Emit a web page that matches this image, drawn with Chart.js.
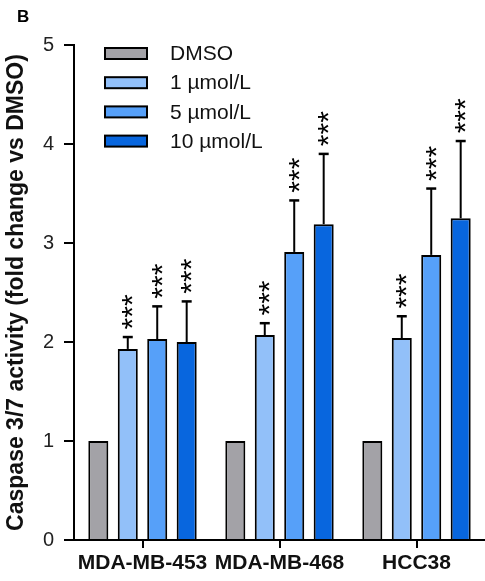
<!DOCTYPE html>
<html>
<head>
<meta charset="utf-8">
<script src="https://cdn.jsdelivr.net/npm/chart.js@4.4.0/dist/chart.umd.min.js"></script>
<style>
  html, body { margin: 0; padding: 0; background: #fff; overflow: hidden; }
  #wrap { width: 485px; height: 581px; }
</style>
</head>
<body>
<div id="wrap"><canvas id="myChart" width="485" height="581"></canvas></div>
<script>
const cellLines = ['MDA-MB-453', 'MDA-MB-468', 'HCC38'];
const seriesNames = ['DMSO', '1 µmol/L', '5 µmol/L', '10 µmol/L'];
const seriesColors = ['#a3a2a7', '#92c0f9', '#56a0f9', '#0866de'];

// mean fold change
const dmso = [1, 1, 1];
const dose1 = [1.93, 2.07, 2.04];
const dose5 = [2.03, 2.91, 2.88];
const dose10 = [2.00, 3.19, 3.25];

// upper error (SD)
const errDmso = [0, 0, 0];
const err1 = [0.12, 0.12, 0.22];
const err5 = [0.33, 0.52, 0.67];
const err10 = [0.41, 0.71, 0.78];

const starsDmso = ['', '', ''];
const stars1 = ['***', '***', '***'];
const stars5 = ['***', '***', '***'];
const stars10 = ['***', '***', '***'];

const yMin = 0;
const yMax = 5;
const yStep = 1;

const FONT = '"Liberation Sans", Arial, Helvetica, sans-serif';

const values = [dmso, dose1, dose5, dose10];
const errors = [errDmso, err1, err5, err10];
const stars = [starsDmso, stars1, stars5, stars10];

const datasets = seriesNames.map((name, i) => ({
  label: name,
  data: values[i],
  errors: errors[i],
  stars: stars[i],
  backgroundColor: seriesColors[i],
  borderColor: '#000',
  borderWidth: 2,
  borderSkipped: 'bottom',
  categoryPercentage: 0.86,
  barPercentage: 0.68,
}));

// error bars + significance stars
const errorBars = {
  id: 'errorBars',
  afterDatasetsDraw(chart) {
    const ctx = chart.ctx;
    const y = chart.scales.y;
    ctx.save();
    chart.data.datasets.forEach((ds, i) => {
      const meta = chart.getDatasetMeta(i);
      meta.data.forEach((bar, j) => {
        const e = ds.errors[j];
        let top = y.getPixelForValue(ds.data[j]);
        if (e) {
          top = y.getPixelForValue(ds.data[j] + e);
          const base = y.getPixelForValue(ds.data[j]);
          ctx.strokeStyle = '#000';
          ctx.lineWidth = 2;
          ctx.beginPath();
          ctx.moveTo(bar.x, base);
          ctx.lineTo(bar.x, top);
          ctx.stroke();
          ctx.lineWidth = 2.5;
          ctx.beginPath();
          ctx.moveTo(bar.x - 5, top);
          ctx.lineTo(bar.x + 5, top);
          ctx.stroke();
        }
        const s = ds.stars[j];
        if (s) {
          ctx.font = '30px ' + FONT;
          ctx.fillStyle = '#000';
          const m = ctx.measureText('*');
          const b = (m.actualBoundingBoxAscent - m.actualBoundingBoxDescent) / 2;
          for (let k = 0; k < s.length; k++) {
            ctx.save();
            ctx.translate(bar.x, top - 13.5 - k * 11.7);
            ctx.rotate(-Math.PI / 2);
            ctx.textAlign = 'center';
            ctx.textBaseline = 'alphabetic';
            ctx.fillText(s[k], 0, b);
            ctx.restore();
          }
        }
      });
    });
    ctx.restore();
  }
};

// legend in the upper left of the plot + panel letter
const sideLegend = {
  id: 'sideLegend',
  afterDraw(chart) {
    const ctx = chart.ctx;
    ctx.save();
    chart.data.datasets.forEach((ds, i) => {
      const cy = 53.5 + i * 29.2;
      ctx.fillStyle = ds.backgroundColor;
      ctx.fillRect(105, cy - 5.5, 42, 11);
      ctx.strokeStyle = '#000';
      ctx.lineWidth = 2;
      ctx.strokeRect(105, cy - 5.5, 42, 11);
      ctx.fillStyle = '#111';
      ctx.font = '21px ' + FONT;
      ctx.textAlign = 'left';
      ctx.textBaseline = 'middle';
      ctx.fillText(ds.label, 170, cy + 1);
    });
    ctx.fillStyle = '#000';
    ctx.font = 'bold 17px ' + FONT;
    ctx.textBaseline = 'alphabetic';
    ctx.fillText('B', 17, 22);
    ctx.restore();
  }
};

const ctx = document.getElementById('myChart').getContext('2d');
const myChart = new Chart(ctx, {
  type: 'bar',
  data: { labels: cellLines, datasets: datasets },
  plugins: [errorBars, sideLegend],
  options: {
    responsive: false,
    animation: false,
    layout: { padding: { top: 45, right: 0, bottom: 0, left: 0 } },
    plugins: {
      legend: { display: false },
      tooltip: { enabled: false },
    },
    scales: {
      x: {
        afterFit: (scale) => { scale.height = 41; },
        grid: { offset: false, drawOnChartArea: false, drawTicks: true, tickLength: 8, lineWidth: 2, color: '#000' },
        border: { display: true, width: 2, color: '#000' },
        ticks: { color: '#111', padding: 3, font: { family: FONT, size: 21, weight: 'bold' } },
      },
      y: {
        min: yMin,
        max: yMax,
        afterFit: (scale) => { scale.width = 74; },
        grid: { drawOnChartArea: false, drawTicks: true, tickLength: 10, lineWidth: 2, color: '#000' },
        border: { display: true, width: 2, color: '#000' },
        ticks: { stepSize: yStep, color: '#222', padding: 10, font: { family: FONT, size: 20 } },
        title: {
          display: true,
          text: 'Caspase 3/7 activity (fold change vs DMSO)',
          color: '#111',
          font: { family: FONT, size: 23, weight: 'bold' },
          padding: { top: 3, bottom: 0 },
        },
      },
    },
  },
});
</script>
</body>
</html>
